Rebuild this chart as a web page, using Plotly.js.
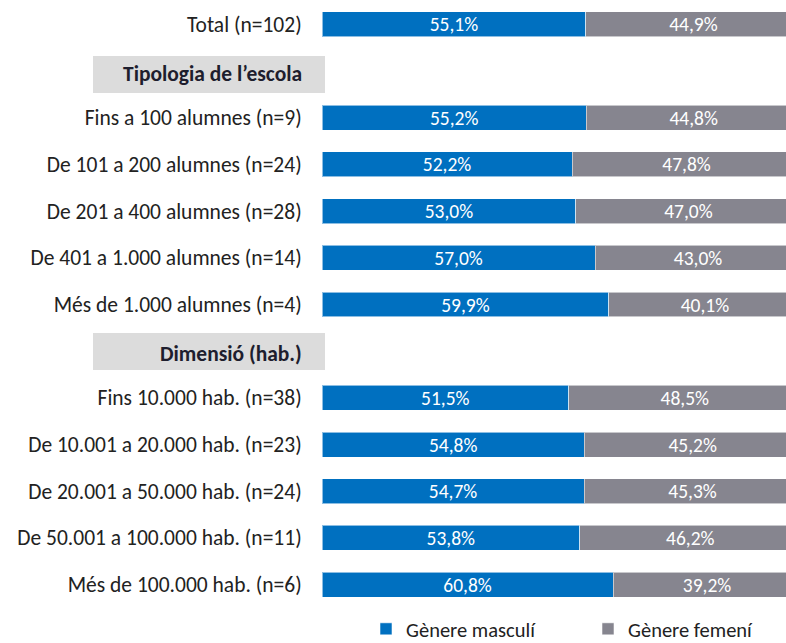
<!DOCTYPE html>
<html>
<head>
<meta charset="utf-8">
<script src="https://cdn.plot.ly/plotly-3.0.1.min.js"></script>
<style>
html, body { margin:0; padding:0; overflow:hidden; background:#fff; }
#chart { width:1000px; height:643px; }
</style>
</head>
<body>
<div id="chart"></div>
<script>
const categories = [
  "Total (n=102)",
  "Tipologia de l’escola",
  "Fins a 100 alumnes (n=9)",
  "De 101 a 200 alumnes (n=24)",
  "De 201 a 400 alumnes (n=28)",
  "De 401 a 1.000 alumnes (n=14)",
  "Més de 1.000 alumnes (n=4)",
  "Dimensió (hab.)",
  "Fins 10.000 hab. (n=38)",
  "De 10.001 a 20.000 hab. (n=23)",
  "De 20.001 a 50.000 hab. (n=24)",
  "De 50.001 a 100.000 hab. (n=11)",
  "Més de 100.000 hab. (n=6)"
];
const headers = ["Tipologia de l’escola", "Dimensió (hab.)"];
const masculi = [55.1, null, 55.2, 52.2, 53.0, 57.0, 59.9, null, 51.5, 54.8, 54.7, 53.8, 60.8];
const femeni  = [44.9, null, 44.8, 47.8, 47.0, 43.0, 40.1, null, 48.5, 45.2, 45.3, 46.2, 39.2];
const seriesNames = ["Gènere masculí", "Gènere femení"];

const FONT = "Calibri, Carlito, Lato, sans-serif";
const rowLabels = categories.filter(c => headers.indexOf(c) < 0);

function trace(vals, name, color) {
  return {
    type: "bar", orientation: "h",
    y: categories, x: vals, name: name,
    marker: { color: color, line: { color: "rgba(255,255,255,0.55)", width: 1 } },
    text: vals.map(v => v == null ? "" : v.toFixed(1).replace(".", ",") + "%"),
    textposition: "inside", insidetextanchor: "middle", constraintext: "none",
    textfont: { family: FONT, size: 19.5, color: "#ffffff" },
    hoverinfo: "skip", cliponaxis: true
  };
}

const data = [
  trace(masculi, seriesNames[0], "#0070C0"),
  trace(femeni, seriesNames[1], "#86858F")
];

function py(px) { return 1 - (px - 1) / 607; }
function pxx(px) { return (px - 322) / 479; }

const layout = {
  width: 1000, height: 643,
  margin: { l: 322, r: 199, t: 1, b: 35, autoexpand: false },
  barmode: "stack", bargap: 0.465,
  paper_bgcolor: "#ffffff", plot_bgcolor: "#ffffff",
  font: { family: FONT, size: 21.5, color: "#222222" },
  xaxis: { range: [0, 100], visible: false, fixedrange: true },
  yaxis: {
    type: "category", categoryorder: "array", categoryarray: categories,
    autorange: "reversed", tickvals: rowLabels, ticktext: rowLabels,
    ticks: "outside", ticklen: 15, tickcolor: "rgba(0,0,0,0)",
    showline: false, showgrid: false, zeroline: false,
    tickfont: { family: FONT, size: 21.5, color: "#222222" }, fixedrange: true
  },
  shapes: [
    { type: "rect", xref: "paper", yref: "paper", layer: "below",
      x0: pxx(93), x1: pxx(325), y0: py(93), y1: py(56),
      fillcolor: "#DCDCDC", line: { width: 0 } },
    { type: "rect", xref: "paper", yref: "paper", layer: "below",
      x0: pxx(93), x1: pxx(325), y0: py(370), y1: py(333),
      fillcolor: "#DCDCDC", line: { width: 0 } }
  ],
  annotations: headers.map(h => ({
    xref: "paper", yref: "y", x: 0, y: h, xanchor: "right", yanchor: "middle",
    xshift: -18, yshift: -3, showarrow: false,
    text: "<b>" + h + "</b>", font: { family: FONT, size: 21.5, color: "#1E1E2E" }
  })),
  showlegend: true,
  legend: {
    orientation: "h", x: pxx(366), xanchor: "left",
    y: py(629), yanchor: "middle",
    font: { family: FONT, size: 20.5, color: "#222222" },
    traceorder: "normal", itemwidth: 30,
    entrywidth: 177, entrywidthmode: "pixels",
    bgcolor: "rgba(0,0,0,0)"
  }
};

Plotly.newPlot("chart", data, layout, { displayModeBar: false, staticPlot: true });
</script>
</body>
</html>
